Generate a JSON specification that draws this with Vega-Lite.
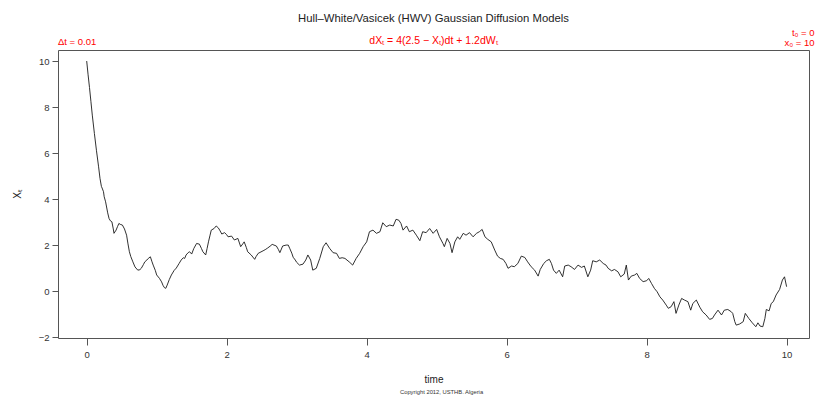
{
  "$schema": "https://vega.github.io/schema/vega-lite/v6.json",
  "width": 751,
  "height": 288,
  "autosize": "none",
  "padding": {"left": 58, "top": 50, "right": 7, "bottom": 62},
  "background": "white",
  "title": {
    "text": "Hull–White/Vasicek (HWV) Gaussian Diffusion Models",
    "subtitle": "dXₜ = 4(2.5 − Xₜ)dt + 1.2dWₜ",
    "anchor": "middle",
    "frame": "group",
    "font": "Liberation Sans",
    "fontSize": 11.3,
    "fontWeight": "normal",
    "color": "#222222",
    "subtitleFont": "Liberation Sans",
    "subtitleFontSize": 10.5,
    "subtitleColor": "#ff0000",
    "subtitlePadding": 12,
    "offset": -19
  },
  "config": {
    "view": {"stroke": "#555555", "strokeWidth": 1},
    "font": "Liberation Sans"
  },
  "datasets": {
    "path": [
      {"time": 0.00, "X": 10.00}, {"time": 0.02, "X": 9.40}, {"time": 0.04, "X": 8.85}, {"time": 0.06, "X": 8.25},
      {"time": 0.08, "X": 7.65}, {"time": 0.11, "X": 6.85}, {"time": 0.14, "X": 6.10}, {"time": 0.17, "X": 5.40},
      {"time": 0.19, "X": 4.90}, {"time": 0.21, "X": 4.55}, {"time": 0.22, "X": 4.48}, {"time": 0.24, "X": 4.32},
      {"time": 0.25, "X": 4.10}, {"time": 0.27, "X": 3.88}, {"time": 0.30, "X": 3.40}, {"time": 0.32, "X": 3.15},
      {"time": 0.34, "X": 3.05}, {"time": 0.36, "X": 3.01}, {"time": 0.38, "X": 2.70}, {"time": 0.39, "X": 2.51},
      {"time": 0.42, "X": 2.65}, {"time": 0.44, "X": 2.80}, {"time": 0.46, "X": 2.94}, {"time": 0.48, "X": 2.90},
      {"time": 0.51, "X": 2.87}, {"time": 0.54, "X": 2.70}, {"time": 0.57, "X": 2.43}, {"time": 0.59, "X": 2.05},
      {"time": 0.61, "X": 1.71}, {"time": 0.63, "X": 1.50}, {"time": 0.66, "X": 1.27}, {"time": 0.69, "X": 1.05},
      {"time": 0.73, "X": 0.91}, {"time": 0.76, "X": 0.93}, {"time": 0.78, "X": 0.99}, {"time": 0.81, "X": 1.15},
      {"time": 0.83, "X": 1.27}, {"time": 0.86, "X": 1.35}, {"time": 0.88, "X": 1.42}, {"time": 0.91, "X": 1.49},
      {"time": 0.93, "X": 1.30}, {"time": 0.95, "X": 1.13}, {"time": 0.98, "X": 0.90}, {"time": 1.00, "X": 0.70},
      {"time": 1.04, "X": 0.55}, {"time": 1.07, "X": 0.40}, {"time": 1.09, "X": 0.25}, {"time": 1.11, "X": 0.15},
      {"time": 1.13, "X": 0.12}, {"time": 1.15, "X": 0.26}, {"time": 1.18, "X": 0.50}, {"time": 1.21, "X": 0.70},
      {"time": 1.25, "X": 0.90}, {"time": 1.28, "X": 1.00}, {"time": 1.32, "X": 1.20}, {"time": 1.35, "X": 1.35},
      {"time": 1.38, "X": 1.45}, {"time": 1.40, "X": 1.42}, {"time": 1.42, "X": 1.57}, {"time": 1.45, "X": 1.67},
      {"time": 1.47, "X": 1.71}, {"time": 1.50, "X": 1.61}, {"time": 1.53, "X": 1.85}, {"time": 1.57, "X": 2.07},
      {"time": 1.61, "X": 2.04}, {"time": 1.64, "X": 1.85}, {"time": 1.66, "X": 1.71}, {"time": 1.70, "X": 1.57},
      {"time": 1.72, "X": 1.85}, {"time": 1.74, "X": 2.14}, {"time": 1.76, "X": 2.40}, {"time": 1.78, "X": 2.65},
      {"time": 1.82, "X": 2.72}, {"time": 1.85, "X": 2.83}, {"time": 1.88, "X": 2.75}, {"time": 1.90, "X": 2.65},
      {"time": 1.93, "X": 2.48}, {"time": 1.97, "X": 2.54}, {"time": 2.00, "X": 2.45}, {"time": 2.02, "X": 2.36},
      {"time": 2.07, "X": 2.39}, {"time": 2.11, "X": 2.22}, {"time": 2.16, "X": 2.29}, {"time": 2.20, "X": 1.93},
      {"time": 2.23, "X": 2.05}, {"time": 2.25, "X": 2.14}, {"time": 2.28, "X": 1.90}, {"time": 2.30, "X": 1.71},
      {"time": 2.35, "X": 1.57}, {"time": 2.40, "X": 1.38}, {"time": 2.42, "X": 1.50}, {"time": 2.45, "X": 1.64},
      {"time": 2.52, "X": 1.75}, {"time": 2.55, "X": 1.80}, {"time": 2.58, "X": 1.86}, {"time": 2.62, "X": 1.95},
      {"time": 2.65, "X": 2.03}, {"time": 2.71, "X": 1.96}, {"time": 2.74, "X": 1.80}, {"time": 2.76, "X": 1.67},
      {"time": 2.80, "X": 1.96}, {"time": 2.85, "X": 2.00}, {"time": 2.88, "X": 2.00}, {"time": 2.90, "X": 1.86},
      {"time": 2.93, "X": 1.65}, {"time": 2.95, "X": 1.47}, {"time": 2.98, "X": 1.35}, {"time": 3.00, "X": 1.25},
      {"time": 3.04, "X": 1.13}, {"time": 3.09, "X": 1.17}, {"time": 3.13, "X": 1.35}, {"time": 3.16, "X": 1.57},
      {"time": 3.20, "X": 1.35}, {"time": 3.23, "X": 0.91}, {"time": 3.28, "X": 0.99}, {"time": 3.33, "X": 1.42},
      {"time": 3.38, "X": 1.93}, {"time": 3.42, "X": 2.10}, {"time": 3.47, "X": 1.86}, {"time": 3.52, "X": 1.67},
      {"time": 3.57, "X": 1.64}, {"time": 3.61, "X": 1.42}, {"time": 3.65, "X": 1.45}, {"time": 3.69, "X": 1.42},
      {"time": 3.75, "X": 1.27}, {"time": 3.80, "X": 1.13}, {"time": 3.85, "X": 1.42}, {"time": 3.90, "X": 1.64},
      {"time": 3.95, "X": 1.93}, {"time": 4.00, "X": 2.14}, {"time": 4.04, "X": 2.58}, {"time": 4.09, "X": 2.65},
      {"time": 4.14, "X": 2.51}, {"time": 4.19, "X": 2.58}, {"time": 4.23, "X": 2.97}, {"time": 4.28, "X": 2.80},
      {"time": 4.33, "X": 2.87}, {"time": 4.38, "X": 2.83}, {"time": 4.42, "X": 3.12}, {"time": 4.46, "X": 3.08},
      {"time": 4.49, "X": 2.94}, {"time": 4.52, "X": 2.65}, {"time": 4.57, "X": 2.83}, {"time": 4.61, "X": 2.58},
      {"time": 4.66, "X": 2.65}, {"time": 4.71, "X": 2.43}, {"time": 4.76, "X": 2.19}, {"time": 4.80, "X": 2.58},
      {"time": 4.85, "X": 2.54}, {"time": 4.90, "X": 2.72}, {"time": 4.95, "X": 2.51}, {"time": 5.00, "X": 2.68},
      {"time": 5.04, "X": 2.36}, {"time": 5.09, "X": 2.07}, {"time": 5.11, "X": 1.93}, {"time": 5.15, "X": 2.29},
      {"time": 5.19, "X": 2.07}, {"time": 5.22, "X": 1.67}, {"time": 5.26, "X": 2.14}, {"time": 5.30, "X": 2.36},
      {"time": 5.33, "X": 2.25}, {"time": 5.38, "X": 2.51}, {"time": 5.42, "X": 2.43}, {"time": 5.47, "X": 2.54},
      {"time": 5.52, "X": 2.36}, {"time": 5.57, "X": 2.51}, {"time": 5.61, "X": 2.58}, {"time": 5.65, "X": 2.68},
      {"time": 5.69, "X": 2.36}, {"time": 5.73, "X": 2.25}, {"time": 5.78, "X": 2.14}, {"time": 5.83, "X": 1.78},
      {"time": 5.87, "X": 1.52}, {"time": 5.91, "X": 1.42}, {"time": 5.95, "X": 1.38}, {"time": 5.99, "X": 1.20},
      {"time": 6.02, "X": 0.99}, {"time": 6.07, "X": 1.09}, {"time": 6.11, "X": 1.06}, {"time": 6.16, "X": 1.20},
      {"time": 6.21, "X": 1.52}, {"time": 6.26, "X": 1.46}, {"time": 6.30, "X": 1.27}, {"time": 6.35, "X": 1.06},
      {"time": 6.40, "X": 0.91}, {"time": 6.45, "X": 0.65}, {"time": 6.48, "X": 0.94}, {"time": 6.53, "X": 1.20},
      {"time": 6.57, "X": 1.32}, {"time": 6.61, "X": 1.38}, {"time": 6.64, "X": 1.20}, {"time": 6.67, "X": 0.91},
      {"time": 6.71, "X": 0.77}, {"time": 6.75, "X": 0.91}, {"time": 6.80, "X": 0.62}, {"time": 6.83, "X": 1.09},
      {"time": 6.88, "X": 1.13}, {"time": 6.92, "X": 1.06}, {"time": 6.97, "X": 0.94}, {"time": 7.02, "X": 1.13},
      {"time": 7.07, "X": 1.03}, {"time": 7.11, "X": 1.09}, {"time": 7.16, "X": 0.62}, {"time": 7.20, "X": 0.91},
      {"time": 7.23, "X": 1.32}, {"time": 7.28, "X": 1.27}, {"time": 7.33, "X": 1.35}, {"time": 7.38, "X": 1.20},
      {"time": 7.42, "X": 1.13}, {"time": 7.45, "X": 0.99}, {"time": 7.50, "X": 0.88}, {"time": 7.54, "X": 0.94},
      {"time": 7.59, "X": 0.84}, {"time": 7.63, "X": 0.62}, {"time": 7.68, "X": 0.74}, {"time": 7.71, "X": 1.13},
      {"time": 7.74, "X": 0.48}, {"time": 7.78, "X": 0.65}, {"time": 7.83, "X": 0.70}, {"time": 7.86, "X": 0.77},
      {"time": 7.90, "X": 0.55}, {"time": 7.95, "X": 0.41}, {"time": 8.00, "X": 0.45}, {"time": 8.03, "X": 0.55},
      {"time": 8.07, "X": 0.33}, {"time": 8.11, "X": 0.12}, {"time": 8.15, "X": -0.03}, {"time": 8.19, "X": -0.25},
      {"time": 8.23, "X": -0.39}, {"time": 8.28, "X": -0.61}, {"time": 8.31, "X": -0.75}, {"time": 8.35, "X": -0.68},
      {"time": 8.39, "X": -0.46}, {"time": 8.42, "X": -0.97}, {"time": 8.46, "X": -0.61}, {"time": 8.50, "X": -0.32},
      {"time": 8.54, "X": -0.39}, {"time": 8.59, "X": -0.46}, {"time": 8.63, "X": -0.83}, {"time": 8.66, "X": -0.54},
      {"time": 8.71, "X": -0.39}, {"time": 8.76, "X": -0.70}, {"time": 8.80, "X": -0.90}, {"time": 8.85, "X": -1.04},
      {"time": 8.90, "X": -1.23}, {"time": 8.94, "X": -1.19}, {"time": 8.97, "X": -1.04}, {"time": 9.02, "X": -0.83},
      {"time": 9.07, "X": -1.04}, {"time": 9.11, "X": -0.83}, {"time": 9.16, "X": -0.80}, {"time": 9.21, "X": -0.90},
      {"time": 9.23, "X": -0.97}, {"time": 9.26, "X": -1.33}, {"time": 9.28, "X": -1.48}, {"time": 9.33, "X": -1.43},
      {"time": 9.38, "X": -1.33}, {"time": 9.41, "X": -0.97}, {"time": 9.46, "X": -1.19}, {"time": 9.51, "X": -1.38},
      {"time": 9.56, "X": -1.55}, {"time": 9.59, "X": -1.38}, {"time": 9.62, "X": -1.52}, {"time": 9.66, "X": -1.55},
      {"time": 9.69, "X": -1.19}, {"time": 9.71, "X": -0.80}, {"time": 9.75, "X": -0.86}, {"time": 9.78, "X": -0.54},
      {"time": 9.81, "X": -0.46}, {"time": 9.85, "X": -0.17}, {"time": 9.90, "X": 0.07}, {"time": 9.94, "X": 0.48},
      {"time": 9.97, "X": 0.62}, {"time": 10.00, "X": 0.19}
    ]
  },
  "layer": [
    {
      "data": {"name": "path"},
      "mark": {"type": "line", "color": "#1a1a1a", "strokeWidth": 0.9, "interpolate": "linear"},
      "encoding": {
        "x": {
          "field": "time",
          "type": "quantitative",
          "scale": {"domain": [-0.41, 10.32], "nice": false, "zero": false},
          "axis": {
            "title": "time",
            "values": [0, 2, 4, 6, 8, 10],
            "format": "d",
            "domain": false,
            "grid": false,
            "tickSize": 7,
            "tickColor": "#555555",
            "labelFont": "Liberation Sans",
            "labelFontSize": 9.5,
            "labelColor": "#333333",
            "labelPadding": 4,
            "titleFont": "Liberation Sans",
            "titleFontSize": 10,
            "titleFontWeight": "normal",
            "titleColor": "#222222",
            "titlePadding": 16
          }
        },
        "y": {
          "field": "X",
          "type": "quantitative",
          "scale": {"domain": [-2.04, 10.48], "nice": false, "zero": false},
          "axis": {
            "title": "Xₜ",
            "values": [-2, 0, 2, 4, 6, 8, 10],
            "format": "d",
            "domain": false,
            "grid": false,
            "tickSize": 6,
            "tickColor": "#555555",
            "labelFont": "Liberation Sans",
            "labelFontSize": 9.5,
            "labelColor": "#333333",
            "labelPadding": 3,
            "titleFont": "Liberation Sans",
            "titleFontSize": 10,
            "titleFontWeight": "normal",
            "titleColor": "#222222",
            "titlePadding": 16
          }
        }
      }
    },
    {
      "data": {"values": [{}]},
      "mark": {"type": "text", "align": "left", "baseline": "middle", "color": "#ff0000", "font": "Liberation Sans", "fontSize": 9.5, "text": "Δt = 0.01"},
      "encoding": {"x": {"datum": -0.41, "type": "quantitative"}, "y": {"datum": 10.84, "type": "quantitative"}}
    },
    {
      "data": {"values": [{}]},
      "mark": {"type": "text", "align": "right", "baseline": "middle", "color": "#ff0000", "font": "Liberation Sans", "fontSize": 9.5, "text": "t₀ = 0"},
      "encoding": {"x": {"datum": 10.4, "type": "quantitative"}, "y": {"datum": 11.22, "type": "quantitative"}}
    },
    {
      "data": {"values": [{}]},
      "mark": {"type": "text", "align": "right", "baseline": "middle", "color": "#ff0000", "font": "Liberation Sans", "fontSize": 9.5, "text": "x₀ = 10"},
      "encoding": {"x": {"datum": 10.4, "type": "quantitative"}, "y": {"datum": 10.80, "type": "quantitative"}}
    },
    {
      "data": {"values": [{}]},
      "mark": {"type": "text", "align": "center", "baseline": "middle", "color": "#333333", "font": "Liberation Sans", "fontSize": 5.8, "text": "Copyright 2012, USTHB. Algeria"},
      "encoding": {"x": {"datum": 5.07, "type": "quantitative"}, "y": {"datum": -4.38, "type": "quantitative"}}
    }
  ]
}
